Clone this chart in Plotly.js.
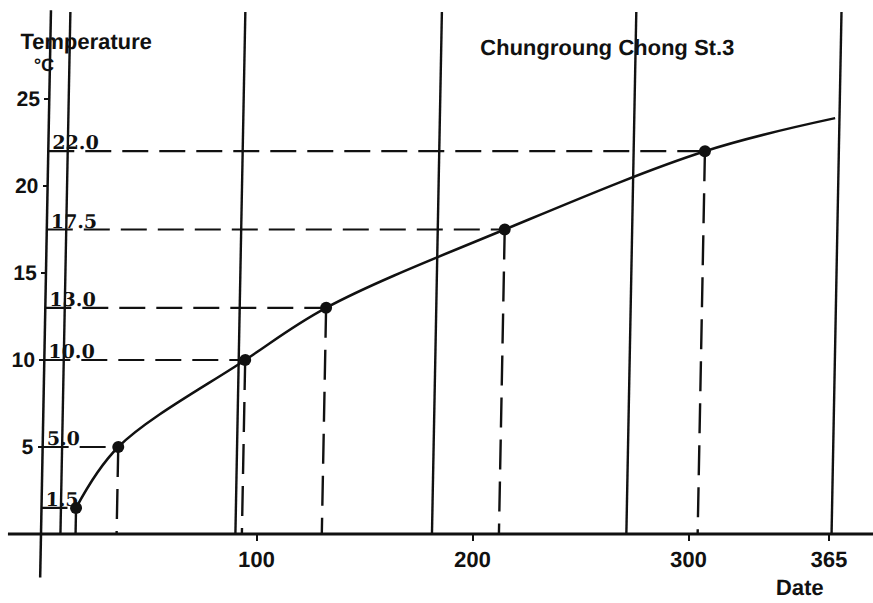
<!DOCTYPE html>
<html>
<head>
<meta charset="utf-8">
<script src="https://cdn.plot.ly/plotly-3.0.1.min.js"></script>
<style>
  html, body { margin: 0; padding: 0; background: #fff; overflow: hidden; }
  #chart { width: 873px; height: 603px; transform: skewX(-1.09deg); transform-origin: 0 534px; }
</style>
</head>
<body>
<div id="chart"></div>
<script>
// ---- data ----
const sampleDays   = [16, 35, 93, 130, 212, 304];
const sampleTemps  = [1.5, 5.0, 10.0, 13.0, 17.5, 22.0];
const sampleLabels = ['1.5', '5.0', '10.0', '13.0', '17.5', '22.0'];
const curveDays    = [16, 35, 93, 130, 212, 304, 364];
const curveTemps   = [1.5, 5.0, 10.0, 13.0, 17.5, 22.0, 23.9];
const quarterDays  = [9, 90, 181, 271, 366];
const xTickVals    = [100, 200, 300, 365];
const xTickText    = ['100', '200', '300', '365'];
const yTickVals    = [5, 10, 15, 20, 25];
const yTickText    = ['5', '10', '15', '20', '25'];
const chartTitle   = 'Chungroung Chong St.3';
const yTitle       = 'Temperature';
const yUnit        = '°C';
const xTitle       = 'Date';

// ---- styling ----
const ink = '#111111';
const W = 873, H = 603;
const tickFont = { family: 'Liberation Sans, Arial, sans-serif', size: 22, weight: 'bold', color: ink };
const labelFont = { family: 'DejaVu Serif, Liberation Serif, serif', size: 19, weight: 'bold', color: ink };
const sansBold = { family: 'Liberation Sans, Arial, sans-serif', size: 22, weight: 'bold', color: ink };

const shapes = [];
// axes
shapes.push({ type: 'line', xref: 'x', yref: 'y', x0: 0, x1: 0, y0: -2.5, y1: 30.1, line: { color: ink, width: 2.5 } });
shapes.push({ type: 'line', xref: 'x', yref: 'y', x0: -15.3, x1: 385.2, y0: 0, y1: 0, line: { color: ink, width: 2.8 } });
// quarter / reference verticals
quarterDays.forEach(d => {
  shapes.push({ type: 'line', xref: 'x', yref: 'y', x0: d, x1: d, y0: 0, y1: 30.0, line: { color: ink, width: 2.4 } });
});
// guide lines for each sample
sampleDays.forEach((d, i) => {
  const t = sampleTemps[i];
  shapes.push({ type: 'line', xref: 'x', yref: 'y', x0: 0, x1: d, y0: t, y1: t,
                line: { color: ink, width: 2.2, dash: '26px,11px' } });
  shapes.push({ type: 'line', xref: 'x', yref: 'y', x0: d, x1: d, y0: t, y1: 0,
                line: { color: ink, width: 2.4, dash: i === 0 ? 'solid' : '30px,12px' } });
});

const annotations = sampleLabels.map((s, i) => ({
  text: s, xref: 'x', yref: 'y', x: 0, y: sampleTemps[i], xanchor: 'left', yanchor: 'bottom',
  xshift: 2, yshift: -4, showarrow: false, font: labelFont
}));
annotations.push({ text: yTitle, xref: 'paper', yref: 'paper', x: 8.6 / W, y: 1 - 27 / H,
  xanchor: 'left', yanchor: 'top', showarrow: false, font: sansBold });
annotations.push({ text: yUnit, xref: 'paper', yref: 'paper', x: 23 / W, y: 1 - 53 / H,
  xanchor: 'left', yanchor: 'top', showarrow: false, font: Object.assign({}, sansBold, { size: 18 }) });
annotations.push({ text: xTitle, xref: 'paper', yref: 'paper', x: 775 / W, y: 1 - 573 / H,
  xanchor: 'left', yanchor: 'top', showarrow: false, font: sansBold });

const traces = [
  { x: curveDays, y: curveTemps, type: 'scatter', mode: 'lines',
    line: { color: ink, width: 2.5, shape: 'spline', smoothing: 1 }, hoverinfo: 'skip' },
  { x: sampleDays, y: sampleTemps, type: 'scatter', mode: 'markers',
    marker: { color: ink, size: 12 }, hoverinfo: 'skip' }
];

const layout = {
  width: W, height: H,
  margin: { l: 0, r: 0, t: 0, b: 0 },
  paper_bgcolor: '#ffffff', plot_bgcolor: '#ffffff',
  showlegend: false,
  title: { text: chartTitle, x: 471 / W, xanchor: 'left', y: 1 - 40 / H, yanchor: 'top', font: sansBold },
  xaxis: { range: [-41 / 2.16, (W - 41) / 2.16], anchor: 'free', position: (H - 534) / H,
           showgrid: false, zeroline: false, showline: false,
           tickmode: 'array', tickvals: xTickVals, ticktext: xTickText,
           ticks: 'outside', ticklen: 6, tickwidth: 2, tickcolor: ink, tickfont: tickFont },
  yaxis: { range: [-(H - 534) / 17.4, 534 / 17.4], anchor: 'free', position: 41 / W,
           showgrid: false, zeroline: false, showline: false,
           tickmode: 'array', tickvals: yTickVals, ticktext: yTickText,
           ticks: 'outside', ticklen: 5, tickwidth: 2, tickcolor: ink,
           tickfont: Object.assign({}, tickFont, { size: 21 }) },
  shapes: shapes,
  annotations: annotations
};

Plotly.newPlot('chart', traces, layout, { staticPlot: true, displayModeBar: false });
</script>
</body>
</html>
